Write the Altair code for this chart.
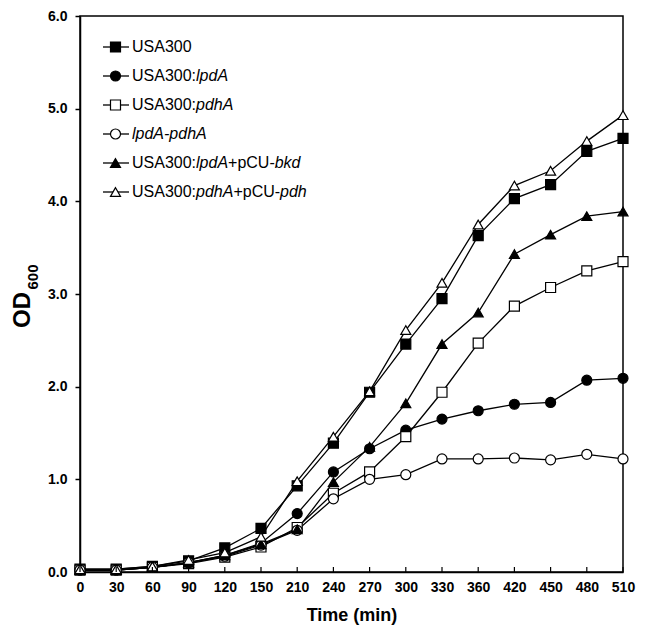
import altair as alt
import pandas as pd

# ---------------- data ----------------
times = [0, 30, 60, 90, 120, 150, 210, 240, 270, 300, 330, 360, 420, 450, 480, 510]

series_names = ["USA300", "USA300:lpdA", "USA300:pdhA", "lpdA-pdhA",
                "USA300:lpdA+pCU-bkd", "USA300:pdhA+pCU-pdh"]

usa300 = [0.03, 0.03, 0.06, 0.12, 0.26, 0.47, 0.93, 1.39, 1.94, 2.46, 2.95, 3.63, 4.03, 4.18, 4.54, 4.68]
usa300_lpda = [0.02, 0.02, 0.05, 0.10, 0.18, 0.31, 0.63, 1.08, 1.33, 1.53, 1.65, 1.74, 1.81, 1.83, 2.07, 2.09]
usa300_pdha = [0.02, 0.02, 0.05, 0.09, 0.16, 0.27, 0.48, 0.85, 1.08, 1.46, 1.94, 2.47, 2.87, 3.07, 3.25, 3.35]
lpda_pdha = [0.02, 0.02, 0.05, 0.10, 0.17, 0.29, 0.45, 0.79, 1.00, 1.05, 1.22, 1.22, 1.23, 1.21, 1.27, 1.22]
lpda_bkd = [0.02, 0.02, 0.05, 0.10, 0.18, 0.30, 0.46, 0.97, 1.35, 1.82, 2.46, 2.80, 3.43, 3.64, 3.84, 3.89]
pdha_pdh = [0.03, 0.03, 0.06, 0.13, 0.21, 0.38, 0.98, 1.46, 1.95, 2.61, 3.12, 3.75, 4.17, 4.33, 4.65, 4.93]

series_values = [usa300, usa300_lpda, usa300_pdha, lpda_pdha, lpda_bkd, pdha_pdh]

# legend label pieces (text, italic?)
legend_segments = [
    [("USA300", False)],
    [("USA300:", False), ("lpdA", True)],
    [("USA300:", False), ("pdhA", True)],
    [("lpdA-pdhA", True)],
    [("USA300:", False), ("lpdA", True), ("+pCU-", False), ("bkd", True)],
    [("USA300:", False), ("pdhA", True), ("+pCU-", False), ("pdh", True)],
]

y_ticks = [0, 1, 2, 3, 4, 5, 6]
x_title = "Time (min)"
y_title_main = "OD"
y_title_sub = "600"

# ---------------- styles ----------------
shapes = ["square", "circle", "square", "circle", "triangle-up", "triangle-up"]
fills = ["black", "black", "white", "white", "black", "white"]
FONT = "Liberation Sans"
W, H = 543, 556
LEG_FS = 16

# Arial / Liberation Sans advance widths (per 1000 em)
ARIAL_W = {"U": 722, "S": 667, "A": 667, "3": 556, "0": 556, ":": 278, "l": 222,
           "p": 556, "d": 556, "h": 556, "+": 584, "C": 722, "-": 333, "b": 556,
           "k": 500}


def text_width(s, fs):
    return sum(ARIAL_W.get(c, 556) for c in s) / 1000.0 * fs


# ---------------- tables ----------------
rows = []
for name, vals in zip(series_names, series_values):
    for t, v in zip(times, vals):
        rows.append({"time": t, "od": v, "series": name})
df = pd.DataFrame(rows)

leg_rows = []
seg_rows = []
for i, (name, segs) in enumerate(zip(series_names, legend_segments)):
    ly = 31 + 29 * i
    leg_rows.append({"series": name, "ly": ly, "x1": 23, "x2": 49, "mx": 35.5})
    xpos = 52.0
    for text, ital in segs:
        seg_rows.append({"txt": text, "italic": ital, "lx": xpos, "ly": ly})
        xpos += text_width(text, LEG_FS)
leg_df = pd.DataFrame(leg_rows)
seg_df = pd.DataFrame(seg_rows)

shape_scale = alt.Scale(domain=series_names, range=shapes)
fill_scale = alt.Scale(domain=series_names, range=fills)

x_enc = alt.X("time:O", scale=alt.Scale(type="point", padding=0),
              axis=alt.Axis(title=x_title, labelAngle=0, ticks=False, tickSize=0,
                            labelPadding=8, labelFontSize=14, labelFontWeight="bold",
                            titleFontSize=18, titleFontWeight="bold", titlePadding=12,
                            domainColor="black", domainWidth=1.5, grid=False))
y_enc = alt.Y("od:Q", scale=alt.Scale(domain=[0, 6], nice=False),
              axis=alt.Axis(title=None, values=y_ticks, format=".1f", tickSize=5,
                            tickWidth=1.5, tickColor="black", labelPadding=8,
                            labelFontSize=14, labelFontWeight="bold",
                            domainColor="black", domainWidth=1.5, grid=False))

base = alt.Chart(df)
lines = base.mark_line(color="black", strokeWidth=1.3).encode(
    x=x_enc, y=y_enc, detail="series:N")
points = base.mark_point(size=100, stroke="black", strokeWidth=1.2, opacity=1,
                         fillOpacity=1).encode(
    x=x_enc, y=y_enc,
    shape=alt.Shape("series:N", scale=shape_scale, legend=None),
    fill=alt.Fill("series:N", scale=fill_scale, legend=None))

ticks = alt.Chart(pd.DataFrame({"time": times})).mark_rule(
    color="black", strokeWidth=1.2).encode(
    x=alt.X("time:O"), y=alt.value(H), y2=alt.value(H - 5))

leg_lines = alt.Chart(leg_df).mark_rule(color="black", strokeWidth=1.3).encode(
    x=alt.X("x1:Q", scale=None), x2="x2:Q", y=alt.Y("ly:Q", scale=None))
leg_pts = alt.Chart(leg_df).mark_point(size=100, stroke="black", strokeWidth=1.2,
                                       opacity=1, fillOpacity=1).encode(
    x=alt.X("mx:Q", scale=None), y=alt.Y("ly:Q", scale=None),
    shape=alt.Shape("series:N", scale=shape_scale, legend=None),
    fill=alt.Fill("series:N", scale=fill_scale, legend=None))
leg_norm = alt.Chart(seg_df).transform_filter("!datum.italic").mark_text(
    align="left", baseline="middle", font=FONT, fontSize=LEG_FS, color="black").encode(
    x=alt.X("lx:Q", scale=None), y=alt.Y("ly:Q", scale=None), text="txt:N")
leg_ital = alt.Chart(seg_df).transform_filter("datum.italic").mark_text(
    align="left", baseline="middle", font=FONT, fontSize=LEG_FS, fontStyle="italic",
    color="black").encode(
    x=alt.X("lx:Q", scale=None), y=alt.Y("ly:Q", scale=None), text="txt:N")

yt_main = alt.Chart(pd.DataFrame({"t": [y_title_main]})).mark_text(
    angle=270, align="center", baseline="middle", font=FONT, fontSize=24,
    fontWeight="bold", color="black").encode(
    text="t:N", x=alt.value(-57), y=alt.value(294))
yt_sub = alt.Chart(pd.DataFrame({"t": [y_title_sub]})).mark_text(
    angle=270, align="center", baseline="middle", font=FONT, fontSize=15,
    fontWeight="bold", color="black").encode(
    text="t:N", x=alt.value(-47), y=alt.value(261))

chart = alt.layer(lines, points, ticks, leg_lines, leg_pts, leg_norm, leg_ital,
                  yt_main, yt_sub).properties(
    width=W, height=H,
    padding={"left": 72, "top": 8, "right": 14, "bottom": 56},
    autosize=alt.AutoSizeParams(type="none"),
    background="white",
).configure_view(stroke="black", strokeWidth=1.5).configure_axis(
    labelFont=FONT, titleFont=FONT, labelColor="black", titleColor="black")

chart.save("out.html", embed_options={"renderer": "svg", "actions": False})
